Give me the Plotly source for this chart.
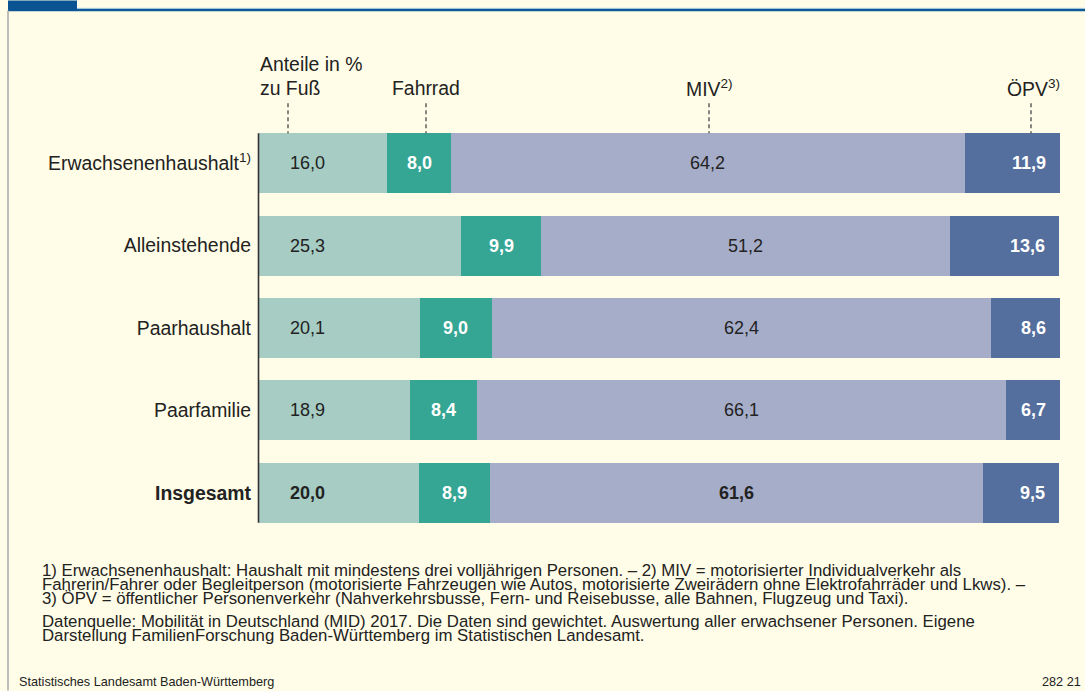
import plotly.graph_objects as go

# ---------------- data ----------------
categories = ["Erwachsenenhaushalt<sup>1)</sup>", "Alleinstehende", "Paarhaushalt",
              "Paarfamilie", "<b>Insgesamt</b>"]
series_names = ["zu Fuß", "Fahrrad", "MIV<sup>2)</sup>", "ÖPV<sup>3)</sup>"]
zu_fuss = [16.0, 25.3, 20.1, 18.9, 20.0]
fahrrad = [8.0, 9.9, 9.0, 8.4, 8.9]
miv = [64.2, 51.2, 62.4, 66.1, 61.6]
oepv = [11.9, 13.6, 8.6, 6.7, 9.5]

footnotes = [
    "1) Erwachsenenhaushalt: Haushalt mit mindestens drei volljährigen Personen. – 2) MIV = motorisierter Individualverkehr als",
    "Fahrerin/Fahrer oder Begleitperson (motorisierte Fahrzeugen wie Autos, motorisierte Zweirädern ohne Elektrofahrräder und Lkws). –",
    "3) ÖPV = öffentlicher Personenverkehr (Nahverkehrsbusse, Fern- und Reisebusse, alle Bahnen, Flugzeug und Taxi).",
]
source_lines = [
    "Datenquelle: Mobilität in Deutschland (MID) 2017. Die Daten sind gewichtet. Auswertung aller erwachsener Personen. Eigene",
    "Darstellung FamilienForschung Baden-Württemberg im Statistischen Landesamt.",
]
footer_left = "Statistisches Landesamt Baden-Württemberg"
footer_right = "282 21"

# ---------------- styles ----------------
W, H = 1085, 691
ML, MR, MT, MB = 259, 25, 121.75, 156.75
PW = W - ML - MR
PH = H - MT - MB
BG = "#FFFDE7"
FONT = "Liberation Sans, Arial, sans-serif"
DARK = "#222222"
colors = ["#A6CCC4", "#35A594", "#A6ADC9", "#546E9D"]
label_colors = [DARK, "white", DARK, "white"]
label_bold = [False, True, False, True]


def px_x(px):
    return (px - ML) / PW


def px_y(py):
    return 1 - (py - MT) / PH


def fmt(v):
    return f"{v:.1f}".replace(".", ",")


all_series = [zu_fuss, fahrrad, miv, oepv]
row_totals = [sum(s[i] for s in all_series) for i in range(len(categories))]
x_max = max(row_totals)

fig = go.Figure()
for name, vals, col in zip(series_names, all_series, colors):
    fig.add_trace(go.Bar(
        y=categories, x=vals, orientation="h", name=name,
        marker=dict(color=col, line=dict(width=0)),
        hoverinfo="skip", showlegend=False,
    ))

annotations = []
# value labels
for i, cat in enumerate(categories):
    is_total = i == len(categories) - 1
    cum = 0.0
    for k, vals in enumerate(all_series):
        v = vals[i]
        bold = label_bold[k] or is_total
        txt = f"<b>{fmt(v)}</b>" if bold else fmt(v)
        f = dict(family=FONT, size=18, color=label_colors[k])
        if k == 0:
            annotations.append(dict(x=0, y=cat, xref="x", yref="y", text=txt,
                                    xanchor="left", xshift=29, showarrow=False, font=f))
        elif k == 3:
            annotations.append(dict(x=min(cum + v, x_max), y=cat, xref="x", yref="y", text=txt,
                                    xanchor="right", xshift=-12, showarrow=False, font=f))
        else:
            annotations.append(dict(x=cum + v / 2, y=cat, xref="x", yref="y", text=txt,
                                    xanchor="center", showarrow=False, font=f))
        cum += v

hdr_font = dict(family=FONT, size=19.4, color=DARK)
annotations.append(dict(x=px_x(258), y=px_y(64), xref="paper", yref="paper",
                        text="Anteile in %", xanchor="left", yanchor="middle",
                        showarrow=False, font=hdr_font))
header_px = [(258, "left"), (426, "center"), (709, "center"), (1033, "center")]
for name, (hx, anc) in zip(series_names, header_px):
    annotations.append(dict(x=px_x(hx), y=px_y(88), xref="paper", yref="paper",
                            text=name, xanchor=anc, yanchor="middle",
                            showarrow=False, font=hdr_font))

fn_font = dict(family=FONT, size=16.8, color=DARK)
for j, line in enumerate(footnotes):
    annotations.append(dict(x=px_x(40), y=px_y(571 + 14 * j), xref="paper", yref="paper",
                            text=line, xanchor="left", yanchor="middle",
                            showarrow=False, font=fn_font))
for j, line in enumerate(source_lines):
    annotations.append(dict(x=px_x(40), y=px_y(622 + 14 * j), xref="paper", yref="paper",
                            text=line, xanchor="left", yanchor="middle",
                            showarrow=False, font=fn_font))
foot_font = dict(family=FONT, size=12.7, color=DARK)
annotations.append(dict(x=px_x(17), y=px_y(682), xref="paper", yref="paper",
                        text=footer_left, xanchor="left", yanchor="middle",
                        showarrow=False, font=foot_font))
annotations.append(dict(x=px_x(1083), y=px_y(682), xref="paper", yref="paper",
                        text=footer_right, xanchor="right", yanchor="middle",
                        showarrow=False, font=foot_font))

shapes = []
# dashed guide lines from headers down to bars
for hx in [288, 426, 709, 1031]:
    shapes.append(dict(type="line", xref="paper", yref="paper",
                       x0=px_x(hx), x1=px_x(hx), y0=px_y(103), y1=px_y(133),
                       line=dict(color="#555555", width=1.4, dash="4px,3px")))
# axis line
shapes.append(dict(type="line", xref="paper", yref="paper",
                   x0=px_x(258.5), x1=px_x(258.5), y0=px_y(133), y1=px_y(523),
                   line=dict(color="#333333", width=1.6), layer="above"))
# frame decoration: top blue rule + tab, left gray border
shapes.append(dict(type="rect", xref="paper", yref="paper",
                   x0=px_x(8), x1=px_x(1085), y0=px_y(8.3), y1=px_y(10.8),
                   line=dict(width=0), fillcolor="#0E5A97"))
shapes.append(dict(type="line", xref="paper", yref="paper",
                   x0=px_x(8), x1=px_x(1085), y0=px_y(8), y1=px_y(8),
                   line=dict(color="#9CC3DE", width=1)))
shapes.append(dict(type="rect", xref="paper", yref="paper",
                   x0=px_x(8), x1=px_x(77), y0=px_y(0), y1=px_y(10.5),
                   line=dict(width=0), fillcolor="#0B5494"))
shapes.append(dict(type="line", xref="paper", yref="paper",
                   x0=px_x(8), x1=px_x(8), y0=px_y(10), y1=px_y(691),
                   line=dict(color="#A8A8A8", width=1.5)))

fig.update_layout(
    width=W, height=H,
    margin=dict(l=ML, r=MR, t=MT, b=MB, pad=0),
    paper_bgcolor=BG, plot_bgcolor=BG,
    barmode="stack", bargap=0.273,
    font=dict(family=FONT, color=DARK),
    xaxis=dict(range=[0, x_max], showgrid=False, zeroline=False, showticklabels=False,
               showline=False, ticks="", fixedrange=True),
    yaxis=dict(autorange="reversed", showgrid=False, zeroline=False, showline=False,
               ticks="", ticklabelstandoff=7, fixedrange=True,
               tickfont=dict(family=FONT, size=19.4, color=DARK)),
    annotations=annotations,
    shapes=shapes,
)

fig.write_html("out.html", config={"displayModeBar": False},
               post_script="document.body.style.margin='0';document.body.style.background='" + BG + "';")
